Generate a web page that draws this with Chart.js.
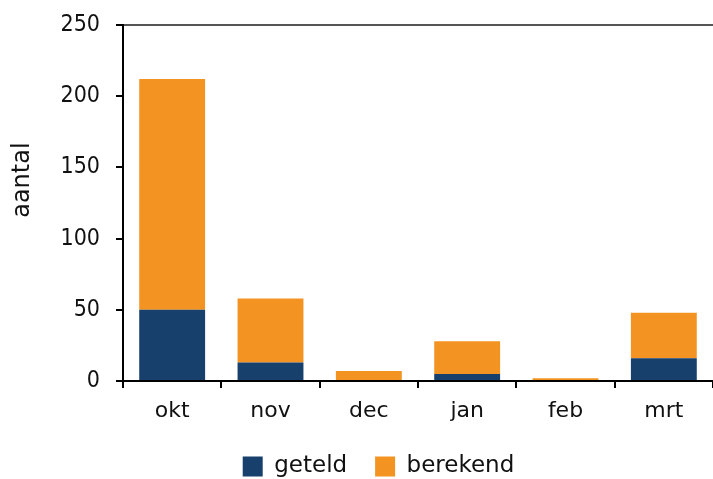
<!DOCTYPE html>
<html>
<head>
<meta charset="utf-8">
<script src="https://cdn.jsdelivr.net/npm/chart.js@4"></script>
<style>
  html, body { margin: 0; padding: 0; background: #fff; }
  #wrap { width: 713px; height: 479px; position: relative; }
</style>
</head>
<body>
<div id="wrap"><canvas id="chart"></canvas></div>
<script>
// data
const maanden = ['okt', 'nov', 'dec', 'jan', 'feb', 'mrt'];
const geteld = [50, 13, 0, 5, 0, 16];
const berekend = [162, 45, 7, 23, 2, 32];
const yTicks = [0, 50, 100, 150, 200, 250];

const kleuren = {
  navy: '#17406d',
  oranje: '#f39321'
};

Chart.defaults.font.family = "'DejaVu Sans', sans-serif";
Chart.defaults.font.size = 22;
Chart.defaults.color = '#111';

// left padding only moves the legend a bit right, the y axis takes the rest
const linksMarge = 44;

new Chart(document.getElementById('chart'), {
  type: 'bar',
  data: {
    labels: maanden,
    datasets: [
      { label: 'geteld', data: geteld, backgroundColor: kleuren.navy, barPercentage: 0.67, categoryPercentage: 1 },
      { label: 'berekend', data: berekend, backgroundColor: kleuren.oranje, barPercentage: 0.67, categoryPercentage: 1 }
    ]
  },
  options: {
    responsive: true,
    maintainAspectRatio: false,
    animation: false,
    layout: { padding: { top: 25, right: 0, left: linksMarge, bottom: -9 } },
    plugins: {
      tooltip: { enabled: false },
      legend: {
        position: 'bottom',
        labels: {
          boxWidth: 20,
          boxHeight: 20,
          padding: 28,
          font: { size: 23 },
          color: '#111'
        }
      }
    },
    scales: {
      x: {
        stacked: true,
        grid: {
          display: true,
          offset: true,
          drawOnChartArea: false,
          tickLength: 7,
          tickColor: '#000',
          lineWidth: 2
        },
        border: { color: '#000', width: 2 },
        ticks: { padding: 10, font: { size: 22 } },
        afterFit: (scale) => { scale.height = 46; }
      },
      y: {
        stacked: true,
        min: 0,
        max: 250,
        afterBuildTicks: (scale) => { scale.ticks = yTicks.map(v => ({ value: v })); },
        grid: {
          drawOnChartArea: true,
          tickLength: 7,
          tickColor: '#000',
          lineWidth: 2,
          color: (ctx) => ctx.tick && ctx.tick.value === 250 ? '#555' : 'rgba(0,0,0,0)'
        },
        border: { color: '#000', width: 2 },
        ticks: { padding: 16, font: { family: "'DejaVu Sans Condensed', 'DejaVu Sans', sans-serif", size: 23 } },
        title: {
          display: true,
          text: '      aantal',
          font: { size: 24 },
          color: '#111',
          padding: { top: 8 - linksMarge, bottom: 0 }
        },
        afterFit: (scale) => {
          scale.width = 123 - linksMarge;
          scale.paddingTop = 13;
          scale.paddingBottom = 13;
        }
      }
    }
  }
});
</script>
</body>
</html>
